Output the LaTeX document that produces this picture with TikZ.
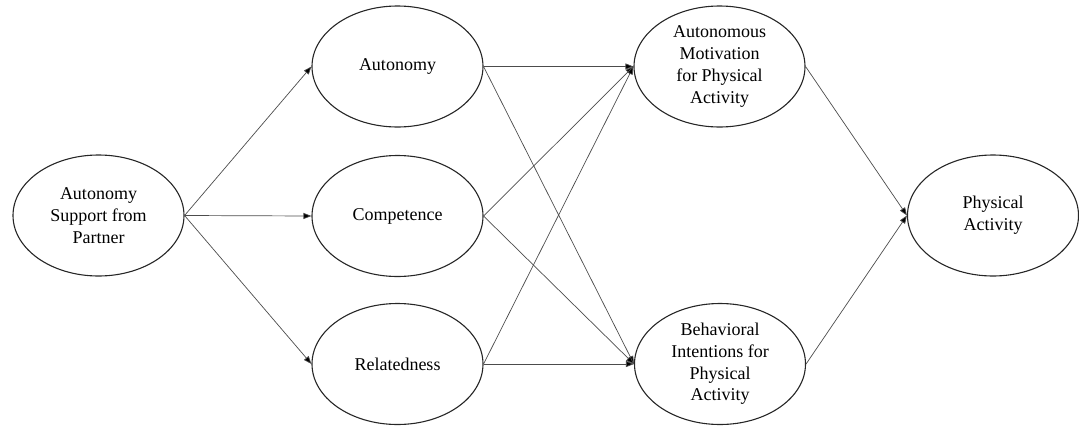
\documentclass[tikz,border=0pt]{standalone}
\usepackage{fontspec}
\setmainfont{Liberation Serif}
\usetikzlibrary{shapes.geometric,arrows.meta}
\begin{document}
\begin{tikzpicture}[x=1pt,y=-1pt,
  var/.style={ellipse,draw=black!85,line width=1.1pt,minimum width=171pt,minimum height=121pt,inner sep=0pt,align=center,font=\fontsize{18}{21.7}\selectfont},
  path/.style={draw=black!70,line width=0.7pt,-{Triangle[length=8pt,width=6pt,fill=black]}}]
\useasboundingbox (0,0) rectangle (1079,426);
\node[var] (asp) at (98.5,215.5) {Autonomy\\Support from\\Partner};
\node[var] (aut) at (397.5,66.5) {Autonomy};
\node[var] (com) at (397.5,216) {Competence};
\node[var] (rel) at (397.5,364) {Relatedness};
\node[var] (am) at (719.5,66.5) {Autonomous\\Motivation\\for Physical\\Activity};
\node[var] (bi) at (720,364) {Behavioral\\Intentions for\\Physical\\Activity};
\node[var] (pa) at (993,215.5) {Physical\\Activity};
\foreach \s/\t in {asp/aut,asp/com,asp/rel,aut/am,aut/bi,com/am,com/bi,rel/am,rel/bi,am/pa,bi/pa}
  \draw[path] (\s.east) -- (\t.west);
\end{tikzpicture}
\end{document}
